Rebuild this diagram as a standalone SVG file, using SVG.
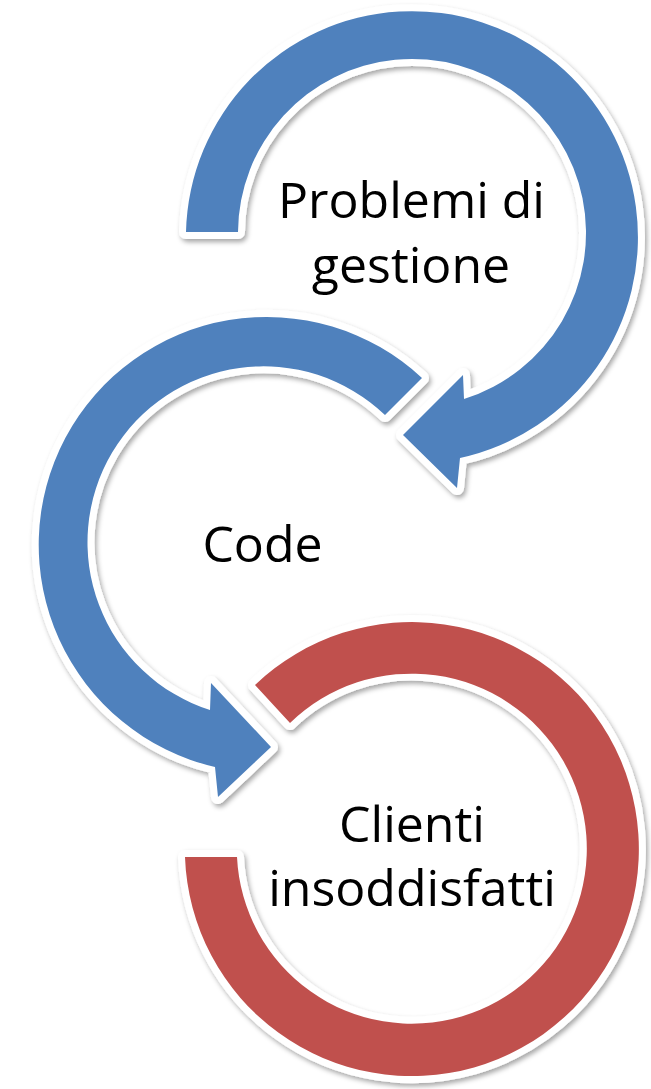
<svg xmlns="http://www.w3.org/2000/svg" width="651" height="1089" viewBox="0 0 651 1089">
  <defs>
    <filter id="sh" x="-10%" y="-10%" width="120%" height="120%">
      <feDropShadow dx="2" dy="3" stdDeviation="2.5" flood-color="#000" flood-opacity="0.35"/>
    </filter>
    <path id="p-top" d="M186,232 A226,226 0 1 1 460,458 L457,488 L403,435 L463,375 L464,399 A174,174 0 1 0 238,232 Z"/>
    <path id="p-mid" d="M422,378 A228,228 0 1 0 215,767 L218,797 L271,747 L211,683 L210,710 A176,176 0 1 1 385,415 Z"/>
    <path id="p-bot" d="M185,857 A227,227 0 1 0 255,685 L290,723 A175,175 0 1 1 237,857 Z"/>
  </defs>
  <style>
    .halo { fill: #ffffff; stroke: #ffffff; stroke-width: 14; stroke-linejoin: round; filter: url(#sh); }
    .blue { fill: #4F81BD; }
    .red { fill: #C0504D; }
    .lbl { font-family: "Open Sans", "Noto Sans", "Liberation Sans", sans-serif; font-size: 50px; fill: #000000; text-anchor: middle; }
  </style>
  <rect width="651" height="1089" fill="#ffffff"/>
  <g id="node-problemi">
    <use href="#p-top" class="halo"/>
    <use href="#p-top" class="blue"/>
    <text class="lbl" x="411.5" y="218">Problemi di</text>
    <text class="lbl" x="411" y="283">gestione</text>
  </g>
  <g id="node-code">
    <use href="#p-mid" class="halo"/>
    <use href="#p-mid" class="blue"/>
    <text class="lbl" x="262.5" y="562">Code</text>
  </g>
  <g id="node-clienti">
    <use href="#p-bot" class="halo"/>
    <use href="#p-bot" class="red"/>
    <text class="lbl" x="412" y="842">Clienti</text>
    <text class="lbl" x="412" y="906">insoddisfatti</text>
  </g>
  <g id="connectors"></g>
</svg>
